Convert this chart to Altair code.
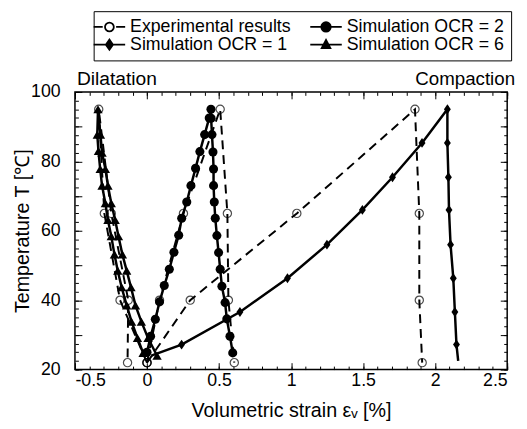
import altair as alt
import pandas as pd

SERIES = ["Experimental results", "Simulation OCR = 1", "Simulation OCR = 2", "Simulation OCR = 6"]

# ---- Experimental results (three tests) ----
exp_ocr1_x = [0.0, 0.30, 1.04, 1.86, 1.89, 1.89, 1.91]
exp_ocr1_T = [22, 40, 65, 95, 65, 40, 22]
exp_ocr2_x = [0.0, 0.087, 0.253, 0.508, 0.558, 0.565, 0.606]
exp_ocr2_T = [22, 40, 65, 95, 65, 40, 22]
exp_ocr6_x = [0.0, -0.187, -0.296, -0.335, -0.248, -0.13, -0.135]
exp_ocr6_T = [22, 40, 65, 95, 65, 40, 22]

# ---- Simulations ----
sim_ocr1_x = [0.03, 0.24, 0.645, 0.975, 1.249, 1.495, 1.704, 1.909, 2.085,
              2.085, 2.092, 2.096, 2.107, 2.126, 2.137, 2.148, 2.16]
sim_ocr1_T = [24, 27.2, 36.6, 46.3, 56, 66, 75.4, 85.3, 95,
              85.3, 75.4, 66, 56, 46.3, 36.6, 27.2, 22.5]

sim_ocr2_x = [0.0, 0.025, 0.058, 0.087, 0.12, 0.155, 0.187, 0.22, 0.241, 0.276,
              0.305, 0.337, 0.367, 0.40, 0.432, 0.444,
              0.445, 0.451, 0.458, 0.462, 0.462, 0.467, 0.474, 0.485, 0.497,
              0.508, 0.52, 0.542, 0.554, 0.576, 0.595]
sim_ocr2_T = [25, 29.6, 34.5, 39.5, 44.2, 48.9, 53.8, 58.7, 63.6, 68.3,
              73, 78, 82.8, 87.7, 92.5, 95,
              92.4, 87.7, 82.7, 77.8, 73, 68.3, 63.6, 58.6, 53.7,
              48.9, 44, 39.3, 34.6, 29.6, 24.8]

sim_ocr6_x = [-0.027, -0.066, -0.107, -0.141, -0.176, -0.203, -0.226, -0.248, -0.271,
              -0.289, -0.312, -0.325, -0.337, -0.345, -0.34,
              -0.323, -0.312, -0.289, -0.271, -0.248, -0.221, -0.198, -0.171, -0.141,
              -0.111, -0.080, -0.039, 0.007, 0.07]
sim_ocr6_T = [24.8, 29.1, 33.8, 38.5, 43.7, 48.5, 53.2, 58.4, 63.1,
              67.9, 73.0, 77.8, 83.0, 87.7, 95,
              87.7, 82.5, 77.8, 73.0, 67.9, 63.1, 58.4, 53.2, 48.5,
              43.7, 38.5, 33.8, 29.1, 24.0]

ann_text = ["Dilatation", "Compaction"]
ann_x = [-0.5, 2.5]
ann_T = [100, 100]

x_major = [-0.5, 0, 0.5, 1, 1.5, 2, 2.5]
y_labels = [20, 40, 60, 80, 100]
y_major = [20, 30, 40, 50, 60, 70, 80, 90, 100]
x_minor = [round(-0.5 + 0.1 * i, 2) for i in range(31)]
y_minor = [20 + 2.5 * i for i in range(33)]

rows = []
def add(series, test, xs, ts):
    for i, (a, b) in enumerate(zip(xs, ts)):
        rows.append({"series": series, "test": test, "idx": i, "x": a, "T": b})

add(SERIES[0], "e1", exp_ocr1_x, exp_ocr1_T)
add(SERIES[0], "e2", exp_ocr2_x, exp_ocr2_T)
add(SERIES[0], "e6", exp_ocr6_x, exp_ocr6_T)
add(SERIES[1], "s1", sim_ocr1_x, sim_ocr1_T)
add(SERIES[2], "s2", sim_ocr2_x, sim_ocr2_T)
add(SERIES[3], "s6", sim_ocr6_x, sim_ocr6_T)
df = pd.DataFrame(rows)
ann = pd.DataFrame({"label": ann_text, "ax": ann_x, "aT": ann_T})

W, H = 439, 282
FONT = "Liberation Sans"
xs = alt.Scale(domain=[-0.5, 2.5], nice=False, zero=False)
ys = alt.Scale(domain=[20, 100], nice=False, zero=False)

def X(f="x"):
    return alt.X(f + ":Q", scale=xs, axis=None)
def Y(f="T"):
    return alt.Y(f + ":Q", scale=ys, axis=None)

base = alt.Chart(df)

exp_line = base.mark_line(color="black", strokeWidth=2, strokeDash=[9, 6]).encode(
    x=X(), y=Y(), detail="test:N", order="idx:Q"
).transform_filter(alt.datum.series == SERIES[0])
exp_pts = base.mark_point(shape="circle", filled=False, color="black", size=70, strokeWidth=1.2).encode(
    x=X(), y=Y()
).transform_filter(alt.datum.series == SERIES[0])

sim_lines = base.mark_line(color="black", strokeWidth=2.5).encode(
    x=X(), y=Y(), detail="test:N", order="idx:Q"
).transform_filter(alt.datum.series != SERIES[0])

ocr2_pts = base.mark_point(shape="circle", filled=True, color="black", size=85, opacity=1).encode(
    x=X(), y=Y()
).transform_filter(alt.datum.series == SERIES[2])
ocr1_pts = base.mark_point(shape="M0,-1L0.7,0L0,1L-0.7,0Z", filled=True, color="black", size=100, opacity=1).encode(
    x=X(), y=Y()
).transform_filter(alt.datum.series == SERIES[1]).transform_filter(
    (alt.datum.idx > 0) & (alt.datum.idx < len(sim_ocr1_x) - 1))
ocr6_pts = base.mark_point(shape="triangle-up", filled=True, color="black", size=90, opacity=1).encode(
    x=X(), y=Y()
).transform_filter(alt.datum.series == SERIES[3])

circ = lambda r: f"M-{r},0A{r},{r},0,1,0,{r},0A{r},{r},0,1,0,-{r},0Z"
paths = [
    "M-2,0L-0.85,0M0.85,0L2,0" + circ(0.56),
    "M-2,0L2,0M0,-0.65L0.45,0L0,0.65L-0.45,0Z",
    "M-2,0L2,0" + circ(0.6),
    "M-2,0L2,0M0,-0.6L0.55,0.45L-0.55,0.45Z",
]
leg = alt.Legend(orient="none", legendX=19, legendY=-82, columns=2, symbolSize=256,
                 symbolStrokeWidth=1.8, symbolOpacity=1,
                 labelFontSize=18, labelFont=FONT, labelLimit=400, labelOffset=12,
                 columnPadding=15, rowPadding=0, padding=7, strokeColor="black",
                 fillColor="white", labelColor="black")
legend_layer = base.mark_point(filled=True, opacity=0).encode(
    x=X(), y=Y(),
    shape=alt.Shape("series:N", scale=alt.Scale(domain=SERIES, range=paths), legend=leg, title=None),
    fill=alt.Fill("series:N", scale=alt.Scale(domain=SERIES, range=["white", "black", "black", "black"]),
                  legend=leg, title=None),
    stroke=alt.Stroke("series:N", scale=alt.Scale(domain=SERIES, range=["black", "black", "black", "black"]),
                      legend=leg, title=None),
)

abase = alt.Chart(ann)
ann_left = abase.mark_text(align="left", baseline="alphabetic", dy=-7, dx=2, fontSize=19.5, font=FONT, color="black").encode(
    x=X("ax"), y=Y("aT"), text="label:N").transform_filter(alt.datum.label == ann_text[0])
ann_right = abase.mark_text(align="right", baseline="alphabetic", dy=-7, dx=8, fontSize=19, font=FONT, color="black").encode(
    x=X("ax"), y=Y("aT"), text="label:N").transform_filter(alt.datum.label == ann_text[1])

data_group = alt.layer(exp_line, sim_lines, exp_pts, ocr2_pts, ocr1_pts, ocr6_pts,
                       legend_layer, ann_left, ann_right)

def axis_layer(ax, ay):
    return base.mark_point(opacity=0).encode(
        x=alt.X("x:Q", scale=xs, axis=ax), y=alt.Y("T:Q", scale=ys, axis=ay))

lab_expr = "datum.value < 0 ? '-' + format(abs(datum.value), '~g') : format(datum.value, '~g')"
A = axis_layer(
    alt.Axis(orient="bottom", values=x_major, ticks=False, domain=False, grid=False,
             labelExpr=lab_expr, labelFontSize=18, labelPadding=2, labelFont=FONT,
             title="Volumetric strain εᵥ [%]", titleFontSize=20, titleFontWeight="normal",
             titleFont=FONT, titlePadding=12),
    alt.Axis(orient="left", values=y_labels, ticks=False, domain=False, grid=False,
             labelFontSize=18, labelPadding=15, labelFont=FONT,
             title="Temperature T [℃]", titleFontSize=20, titleFontWeight="normal",
             titleFont=FONT, titlePadding=-2),
)
def tick_axis(orient, offset, values, size):
    return alt.Axis(orient=orient, offset=offset, values=values, labels=False, ticks=True,
                    tickSize=size, tickWidth=1, tickColor="black", domain=False, grid=False, title=None)

B = axis_layer(tick_axis("top", -H, x_major, 7), tick_axis("right", -W, y_major, 7))
C = axis_layer(tick_axis("top", -H, x_minor, 3.5), tick_axis("right", -W, y_minor, 3.5))
D = axis_layer(tick_axis("bottom", -H, x_major, 7), tick_axis("left", -W, y_major, 7))
E = axis_layer(tick_axis("bottom", -H, x_minor, 3.5), tick_axis("left", -W, y_minor, 3.5))

chart = alt.layer(data_group, A, B, C, D, E).resolve_scale(
    x="independent", y="independent"
).properties(
    width=W, height=H,
    padding={"left": 68, "top": 82, "right": 12, "bottom": 49},
    autosize=alt.AutoSizeParams(type="none"),
).configure(font=FONT).configure_view(stroke="black", strokeWidth=1.5).configure_axis(
    labelColor="black", titleColor="black")

chart.save("out.html", embed_options={"renderer": "svg", "actions": False})
